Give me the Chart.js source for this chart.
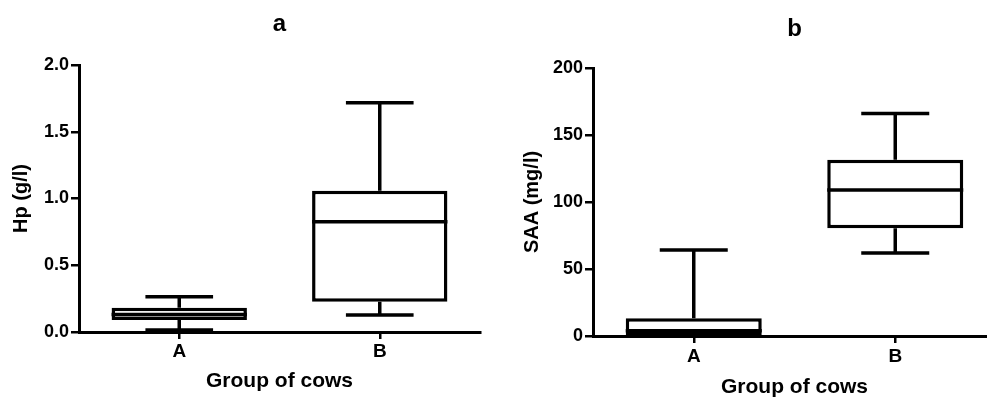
<!DOCTYPE html>
<html>
<head>
<meta charset="utf-8">
<script src="https://cdn.jsdelivr.net/npm/chart.js@4.4.0/dist/chart.umd.min.js"></script>
<style>
html, body { margin: 0; padding: 0; background: #fff; overflow: hidden; width: 987px; height: 397px; }
#wrapA { position: absolute; left: 0; top: 0; width: 490px; height: 397px; }
#wrapB { position: absolute; left: 490px; top: 0; width: 510px; height: 400px; }
</style>
</head>
<body>
<div id="wrapA"><canvas id="chartHp"></canvas></div>
<div id="wrapB"><canvas id="chartSaa"></canvas></div>
<script>
const grupos = ['A', 'B'];

// Hp (g/l)
const hpMin = [0.015, 0.127];
const hpQ1 = [0.09, 0.227];
const hpMediana = [0.131, 0.826];
const hpQ3 = [0.182, 1.058];
const hpMax = [0.264, 1.717];
const hpTicks = [0, 0.5, 1.0, 1.5, 2.0];

// SAA (mg/l)
const saaMin = [0, 62];
const saaQ1 = [0.5, 80.5];
const saaMediana = [4, 109];
const saaQ3 = [13.2, 131.5];
const saaMax = [64.2, 166];
const saaTicks = [0, 50, 100, 150, 200];

const FUENTE = "'Liberation Sans', Arial, sans-serif";
const GROSOR = 3.5;

// Bigotes y mediana dibujados con las escalas del grafico
function crearBigotes(min, mediana, max, q1, q3) {
    return {
        id: 'bigotes',
        afterDatasetsDraw(chart) {
            const ctx = chart.ctx;
            const y = chart.scales.y;
            const meta = chart.getDatasetMeta(0);
            ctx.save();
            ctx.strokeStyle = '#000';
            ctx.lineWidth = GROSOR;
            meta.data.forEach((bar, i) => {
                const cx = bar.x;
                const half = bar.width / 2;
                const cap = half / 2;
                const pMax = y.getPixelForValue(max[i]);
                const pMin = y.getPixelForValue(min[i]);
                const pQ1 = y.getPixelForValue(q1[i]);
                const pQ3 = y.getPixelForValue(q3[i]);
                const pMed = y.getPixelForValue(mediana[i]);
                ctx.beginPath();
                // bigote superior
                ctx.moveTo(cx, pQ3); ctx.lineTo(cx, pMax);
                ctx.moveTo(cx - cap, pMax); ctx.lineTo(cx + cap, pMax);
                // bigote inferior
                ctx.moveTo(cx, pQ1); ctx.lineTo(cx, pMin);
                ctx.moveTo(cx - cap, pMin); ctx.lineTo(cx + cap, pMin);
                // mediana
                ctx.moveTo(cx - half, pMed); ctx.lineTo(cx + half, pMed);
                ctx.stroke();
            });
            ctx.restore();
        }
    };
}

function crearBoxplot(canvasId, cfg) {
    const ctx = document.getElementById(canvasId).getContext('2d');
    return new Chart(ctx, {
        type: 'bar',
        data: {
            labels: grupos,
            datasets: [{
                data: cfg.q1.map((v, i) => [v, cfg.q3[i]]),
                backgroundColor: '#fff',
                borderColor: '#000',
                borderWidth: GROSOR,
                borderSkipped: false,
                barPercentage: 0.675,
                categoryPercentage: 1,
                clip: false
            }]
        },
        options: {
            responsive: true,
            maintainAspectRatio: false,
            animation: false,
            layout: { padding: { left: 0, right: cfg.padRight, top: 0, bottom: 0 } },
            plugins: {
                legend: { display: false },
                tooltip: { enabled: false },
                title: {
                    display: true,
                    text: cfg.titulo,
                    fullSize: false,
                    color: '#000',
                    font: { family: FUENTE, size: 24, weight: 'bold' },
                    padding: { top: cfg.titTop, bottom: cfg.titBottom }
                }
            },
            scales: {
                x: {
                    type: 'category',
                    afterFit: s => { s.height = cfg.altoX; },
                    grid: { display: true, drawOnChartArea: false, offset: false, color: '#000', lineWidth: 2.5, tickLength: 7 },
                    border: { display: true, color: '#000', width: 3 },
                    ticks: { color: '#000', padding: cfg.padTickX, font: { family: FUENTE, size: 19, weight: 'bold' } },
                    title: {
                        display: true,
                        text: 'Group of cows',
                        color: '#000',
                        font: { family: FUENTE, size: 21, weight: 'bold' },
                        padding: { top: 0, bottom: cfg.padTitX }
                    }
                },
                y: {
                    min: cfg.ticks[0],
                    max: cfg.ticks[cfg.ticks.length - 1],
                    afterFit: s => { s.width = cfg.anchoY; },
                    afterBuildTicks: s => { s.ticks = cfg.ticks.map(v => ({ value: v })); },
                    grid: { display: true, drawOnChartArea: false, color: '#000', lineWidth: 2.5, tickLength: 8 },
                    border: { display: true, color: '#000', width: 3 },
                    ticks: {
                        color: '#000',
                        padding: 2,
                        font: { family: FUENTE, size: 18, weight: 'bold' },
                        callback: v => cfg.formato(v)
                    },
                    title: {
                        display: true,
                        text: cfg.tituloY,
                        color: '#000',
                        font: { family: FUENTE, size: 20, weight: 'bold' },
                        padding: { top: cfg.padTitY, bottom: 0 }
                    }
                }
            }
        },
        plugins: [crearBigotes(cfg.min, cfg.mediana, cfg.max, cfg.q1, cfg.q3)]
    });
}

crearBoxplot('chartHp', {
    titulo: 'a', tituloY: 'Hp (g/l)',
    min: hpMin, q1: hpQ1, mediana: hpMediana, q3: hpQ3, max: hpMax, ticks: hpTicks,
    formato: v => Number(v).toFixed(1),
    padRight: 10, anchoY: 79, altoX: 65,
    titTop: 10, titBottom: 26.2,
    padTickX: 1.5, padTitX: 3.4, padTitY: 9
});

crearBoxplot('chartSaa', {
    titulo: 'b', tituloY: 'SAA (mg/l)',
    min: saaMin, q1: saaQ1, mediana: saaMediana, q3: saaQ3, max: saaMax, ticks: saaTicks,
    formato: v => String(Math.round(v)),
    padRight: 4, anchoY: 103, altoX: 64,
    titTop: 15.3, titBottom: 23.9,
    padTickX: 2.7, padTitX: 0.4, padTitY: 30
});
</script>
</body>
</html>
